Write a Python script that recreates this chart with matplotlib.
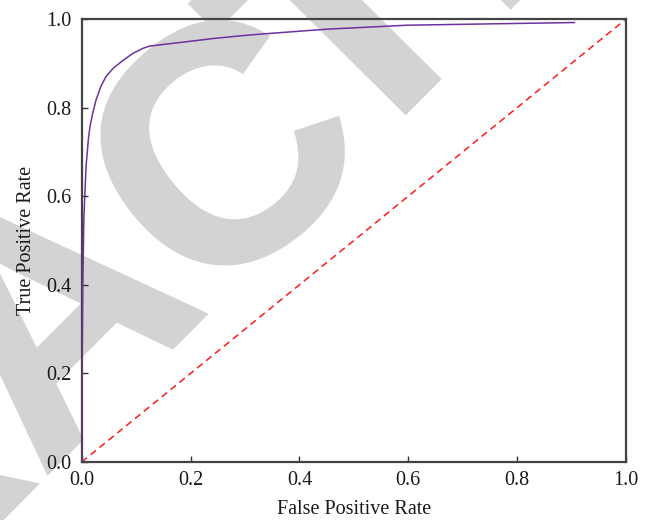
import numpy as np
import matplotlib
matplotlib.use("Agg")
import matplotlib.pyplot as plt
from matplotlib.textpath import TextPath
from matplotlib.font_manager import FontProperties
from matplotlib.patches import PathPatch
from matplotlib.transforms import Affine2D, IdentityTransform

# ---- data ----
fpr = [0.0, 0.0005, 0.001, 0.002, 0.004, 0.006, 0.008, 0.0121, 0.0152, 0.0202,
       0.0263, 0.0349, 0.0446, 0.058, 0.0764, 0.0948, 0.113, 0.125, 0.181, 0.242,
       0.30, 0.33, 0.45, 0.598, 0.75, 0.905]
tpr = [0.0, 0.05, 0.25, 0.40, 0.55, 0.61, 0.667, 0.727, 0.757, 0.787,
       0.817, 0.847, 0.870, 0.889, 0.907, 0.923, 0.934, 0.939, 0.947, 0.956,
       0.963, 0.966, 0.977, 0.986, 0.989, 0.992]
chance_x = [0.0, 1.0]
chance_y = [0.0, 1.0]
xticks = [0.0, 0.2, 0.4, 0.6, 0.8, 1.0]
yticks = [0.0, 0.2, 0.4, 0.6, 0.8, 1.0]
xlabel = "False Positive Rate"
ylabel = "True Positive Rate"
watermark_parts = ["RETRA", "C", "TED"]

W, H = 647, 520
fig = plt.figure(figsize=(W / 100, H / 100), dpi=100)
ax = fig.add_axes([81.7 / W, 1 - 462 / H, (626 - 81.7) / W, (462 - 19) / H])
ax.set_facecolor("none")

# ---- watermark (behind everything) ----
fp = FontProperties(family="Liberation Sans", weight="bold")
def inkx(s):
    return TextPath((0, 0), s, size=1, prop=fp).get_extents().xmax
cap = TextPath((0, 0), "T", size=1, prop=fp).get_extents().ymax
A_px = np.array([40.0, H - 318.0])
C_px = np.array([220.0, H - 146.0])
T_px = np.array([341.0, H - 15.0])
d = T_px - A_px
ang = np.degrees(np.arctan2(d[1], d[0]))
em = 335.0

def place(text, idx, target, extra_rot=0.0):
    if idx > 0:
        pre = inkx(text[:idx])
    else:
        pre = TextPath((0, 0), text[0], size=1, prop=fp).get_extents().xmin
    cx = (pre + inkx(text[:idx + 1])) / 2
    path = TextPath((0, 0), text, size=1, prop=fp)
    tr = (Affine2D().translate(-cx, -cap / 2).scale(em, em)
          .rotate_deg(ang + extra_rot).translate(*target))
    fig.add_artist(PathPatch(tr.transform_path(path), transform=IdentityTransform(),
                             facecolor="#d3d3d3", edgecolor="#d3d3d3",
                             linewidth=2.0, zorder=-5))

place(watermark_parts[0], 4, A_px)
place(watermark_parts[1], 0, C_px, extra_rot=-6.0)
place(watermark_parts[2], 0, T_px)

# ---- chart ----
ax.plot(fpr, tpr, color="#7030a0", lw=1.1, zorder=3)
ax.plot(chance_x, chance_y, color="#ff1a1a", lw=1.1, ls=(0, (4.5, 3.0)), zorder=2)

ax.set_xlim(0, 1)
ax.set_ylim(0, 1)
ax.set_xticks(xticks)
ax.set_yticks(yticks)
ax.set_xticklabels([f"{v:.1f}" for v in xticks])
ax.set_yticklabels([f"{v:.1f}" for v in yticks])

serif = ["Liberation Serif", "DejaVu Serif"]
for lab in ax.get_xticklabels() + ax.get_yticklabels():
    lab.set_family(serif)
    lab.set_fontsize(14.5)
    lab.set_color("#1a1a1a")
ax.tick_params(axis="both", direction="in", length=4.5, width=1.0,
               color="#333333", top=False, right=False)
ax.tick_params(axis="x", pad=6.5)
ax.tick_params(axis="y", pad=7.5)

for sp in ax.spines.values():
    sp.set_color("#444444")
    sp.set_linewidth(1.6)

ax.set_xlabel(xlabel, family=serif, fontsize=14.5, color="#1a1a1a", labelpad=7)
ax.set_ylabel(ylabel, family=serif, fontsize=14.5, color="#1a1a1a", labelpad=7)

fig.savefig("out.png", dpi=100, facecolor="white")
